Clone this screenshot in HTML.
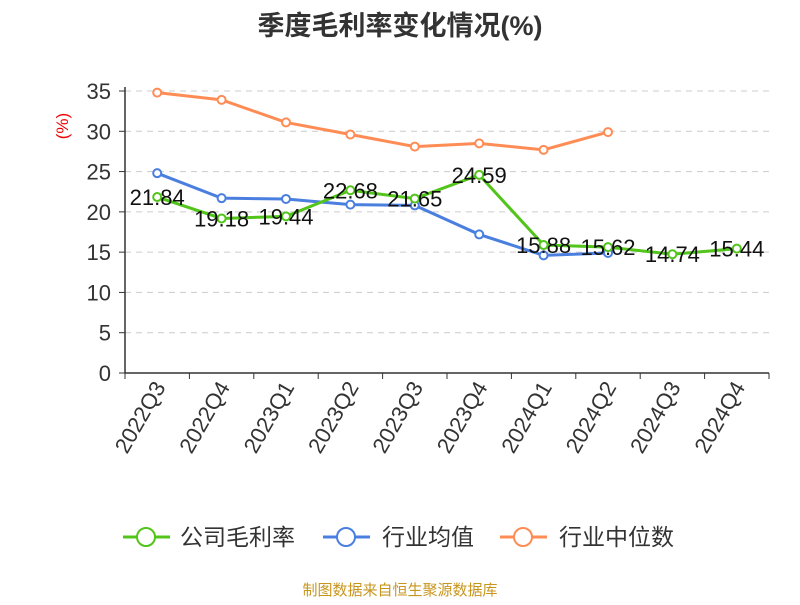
<!DOCTYPE html>
<html><head><meta charset="utf-8"><style>
body{margin:0;background:#fff}
svg text{font-family:"Liberation Sans","Noto Sans CJK SC",sans-serif}
</style></head><body>
<svg id="c" width="800" height="600" xmlns="http://www.w3.org/2000/svg">
<text x="400" y="35" text-anchor="middle" font-size="27" font-weight="bold" fill="#333">季度毛利率变化情况(%)</text>
<text x="68" y="126" text-anchor="middle" font-size="17" fill="#e00" transform="rotate(-90 68 126)">(%)</text>
<g id="grid"></g><g id="axes"></g><g id="series"></g>
<g>
<g><line x1="123" y1="537" x2="170" y2="537" stroke="#52c41a" stroke-width="3"/><circle cx="146" cy="537" r="9" fill="#fff" stroke="#52c41a" stroke-width="2"/><text x="180" y="545" font-size="23" fill="#333">公司毛利率</text></g>
<g><line x1="323" y1="537" x2="370" y2="537" stroke="#4a7fe0" stroke-width="3"/><circle cx="346" cy="537" r="9" fill="#fff" stroke="#4a7fe0" stroke-width="2"/><text x="382" y="545" font-size="23" fill="#333">行业均值</text></g>
<g><line x1="500" y1="537" x2="547" y2="537" stroke="#ff8c55" stroke-width="3"/><circle cx="523" cy="537" r="9" fill="#fff" stroke="#ff8c55" stroke-width="2"/><text x="559" y="545" font-size="23" fill="#333">行业中位数</text></g>
</g>
<text x="400" y="595" text-anchor="middle" font-size="15" fill="#c8961e">制图数据来自恒生聚源数据库</text>
</svg>
<script>
const categories=["2022Q3","2022Q4","2023Q1","2023Q2","2023Q3","2023Q4","2024Q1","2024Q2","2024Q3","2024Q4"];
const companyValues=[21.84,19.18,19.44,22.68,21.65,24.59,15.88,15.62,14.74,15.44];
const averageValues=[24.8,21.7,21.6,20.9,20.8,17.2,14.6,14.9];
const medianValues=[34.8,33.9,31.1,29.6,28.1,28.5,27.7,29.9];
const yTicks=[0,5,10,15,20,25,30,35];
const NS="http://www.w3.org/2000/svg";
const x0=125,x1=769,y0=373,yTop=91,ymax=35;
const step=(x1-x0)/categories.length;
const X=i=>x0+step*(i+0.5);
const Y=v=>y0-(v/ymax)*(y0-yTop);
function mk(p,t,a){const e=document.createElementNS(NS,t);for(const k in a)e.setAttribute(k,a[k]);p.appendChild(e);return e;}
const grid=document.getElementById('grid'),axes=document.getElementById('axes'),ser=document.getElementById('series');
yTicks.forEach(v=>{
 if(v>0){const g=mk(grid,'line',{x1:x0,x2:x1,y1:Y(v),y2:Y(v),stroke:'#ccc','stroke-dasharray':'6,5'});
 
 }
 const t=mk(axes,'text',{x:x0-14,y:Y(v)+8,'text-anchor':'end','font-size':22,fill:'#333'});t.textContent=v;
 
 
 mk(axes,'line',{x1:x0-6,x2:x0,y1:Y(v),y2:Y(v),stroke:'#333'});
});
const ya=mk(axes,'line',{x1:x0,x2:x0,y1:yTop-4,y2:y0,stroke:'#333','stroke-width':1.5});


const xa=mk(axes,'line',{x1:x0,x2:x1,y1:y0,y2:y0,stroke:'#333','stroke-width':1.5});


for(let i=0;i<=categories.length;i++)mk(axes,'line',{x1:x0+step*i,x2:x0+step*i,y1:y0,y2:y0+6,stroke:'#333'});
categories.forEach((c,i)=>{
 const t=mk(axes,'text',{x:X(i)+9,y:y0+14,'text-anchor':'end','font-size':22,fill:'#333',transform:`rotate(-60 ${X(i)+9} ${y0+14})`});
 t.textContent=c;
 
 
});
function series(vals,color,name){
 const pl=mk(ser,'polyline',{points:vals.map((v,i)=>X(i)+','+Y(v)).join(' '),fill:'none',stroke:color,'stroke-width':3});
 
 
 vals.forEach((v,i)=>{
  const c=mk(ser,'circle',{cx:X(i),cy:Y(v),r:4,fill:'#fff',stroke:color,'stroke-width':2});
  
  
 });
}
series(medianValues,'#ff8c55','industry-median');
series(averageValues,'#4a7fe0','industry-average');
series(companyValues,'#52c41a','company-margin');
companyValues.forEach((v,i)=>{
 const t=mk(ser,'text',{x:X(i),y:Y(v)+8,'text-anchor':'middle','font-size':22,fill:'#111'});
 t.textContent=v.toFixed(2);
 
 
});
</script>
</body></html>
